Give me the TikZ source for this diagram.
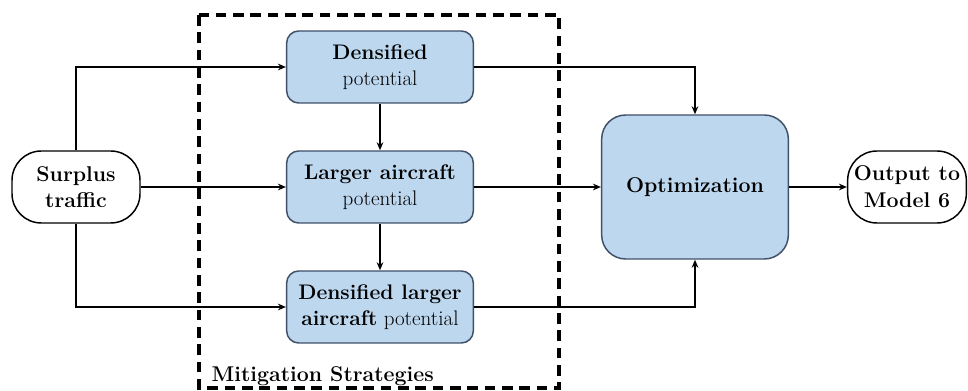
\documentclass[tikz,border=0pt]{standalone}
\usetikzlibrary{arrows.meta}
\definecolor{boxfill}{HTML}{BDD7EE}
\definecolor{boxline}{HTML}{3F5068}
\begin{document}
\begin{tikzpicture}[x=0.75pt,y=-0.75pt,
  bluebox/.style={draw=boxline, fill=boxfill, line width=1.1pt, rounded corners=9pt,
    minimum width=140pt, minimum height=54pt, align=center, inner sep=2pt,
    font=\fontsize{15.8}{19.5}\selectfont},
  optbox/.style={draw=boxline, fill=boxfill, line width=1.1pt, rounded corners=18pt,
    minimum width=140pt, minimum height=108pt, align=center,
    font=\fontsize{16}{20}\selectfont\bfseries},
  termbox/.style={draw=black, line width=1.1pt, rounded corners=22pt, fill=white,
    minimum height=54pt, align=center, inner sep=2pt,
    font=\fontsize{16}{20}\selectfont\bfseries},
  arr/.style={-{Stealth[length=6pt,width=5pt]}, line width=1.1pt, black},
  strategybox/.style={draw=black, line width=2.6pt, dash pattern=on 8pt off 5pt}
]
\useasboundingbox (0,0) rectangle (968,391);
\draw[strategybox] (199,15) rectangle (559,388);
\node[anchor=base west, font=\fontsize{16}{20}\selectfont\bfseries] (lbl) at (207,382) {Mitigation Strategies};

\node[termbox, minimum width=96pt] (s) at (76,187) {Surplus\\traffic};
\node[bluebox] (d) at (380,67) {\textbf{Densified}\\potential};
\node[bluebox] (l) at (380,187) {\textbf{Larger aircraft}\\potential};
\node[bluebox] (dl) at (380,307) {\textbf{Densified larger}\\\textbf{aircraft} potential};
\node[optbox] (o) at (695,187) {Optimization};
\node[termbox, minimum width=89pt] (out) at (907,187) {Output to\\Model 6};

\draw[arr] (s.north) |- (d.west);
\draw[arr] (s.east) -- (l.west);
\draw[arr] (s.south) |- (dl.west);
\draw[arr] (d.south) -- (l.north);
\draw[arr] (l.south) -- (dl.north);
\draw[arr] (d.east) -| (o.north);
\draw[arr] (l.east) -- (o.west);
\draw[arr] (dl.east) -| (o.south);
\draw[arr] (o.east) -- (out.west);
\end{tikzpicture}
\end{document}
